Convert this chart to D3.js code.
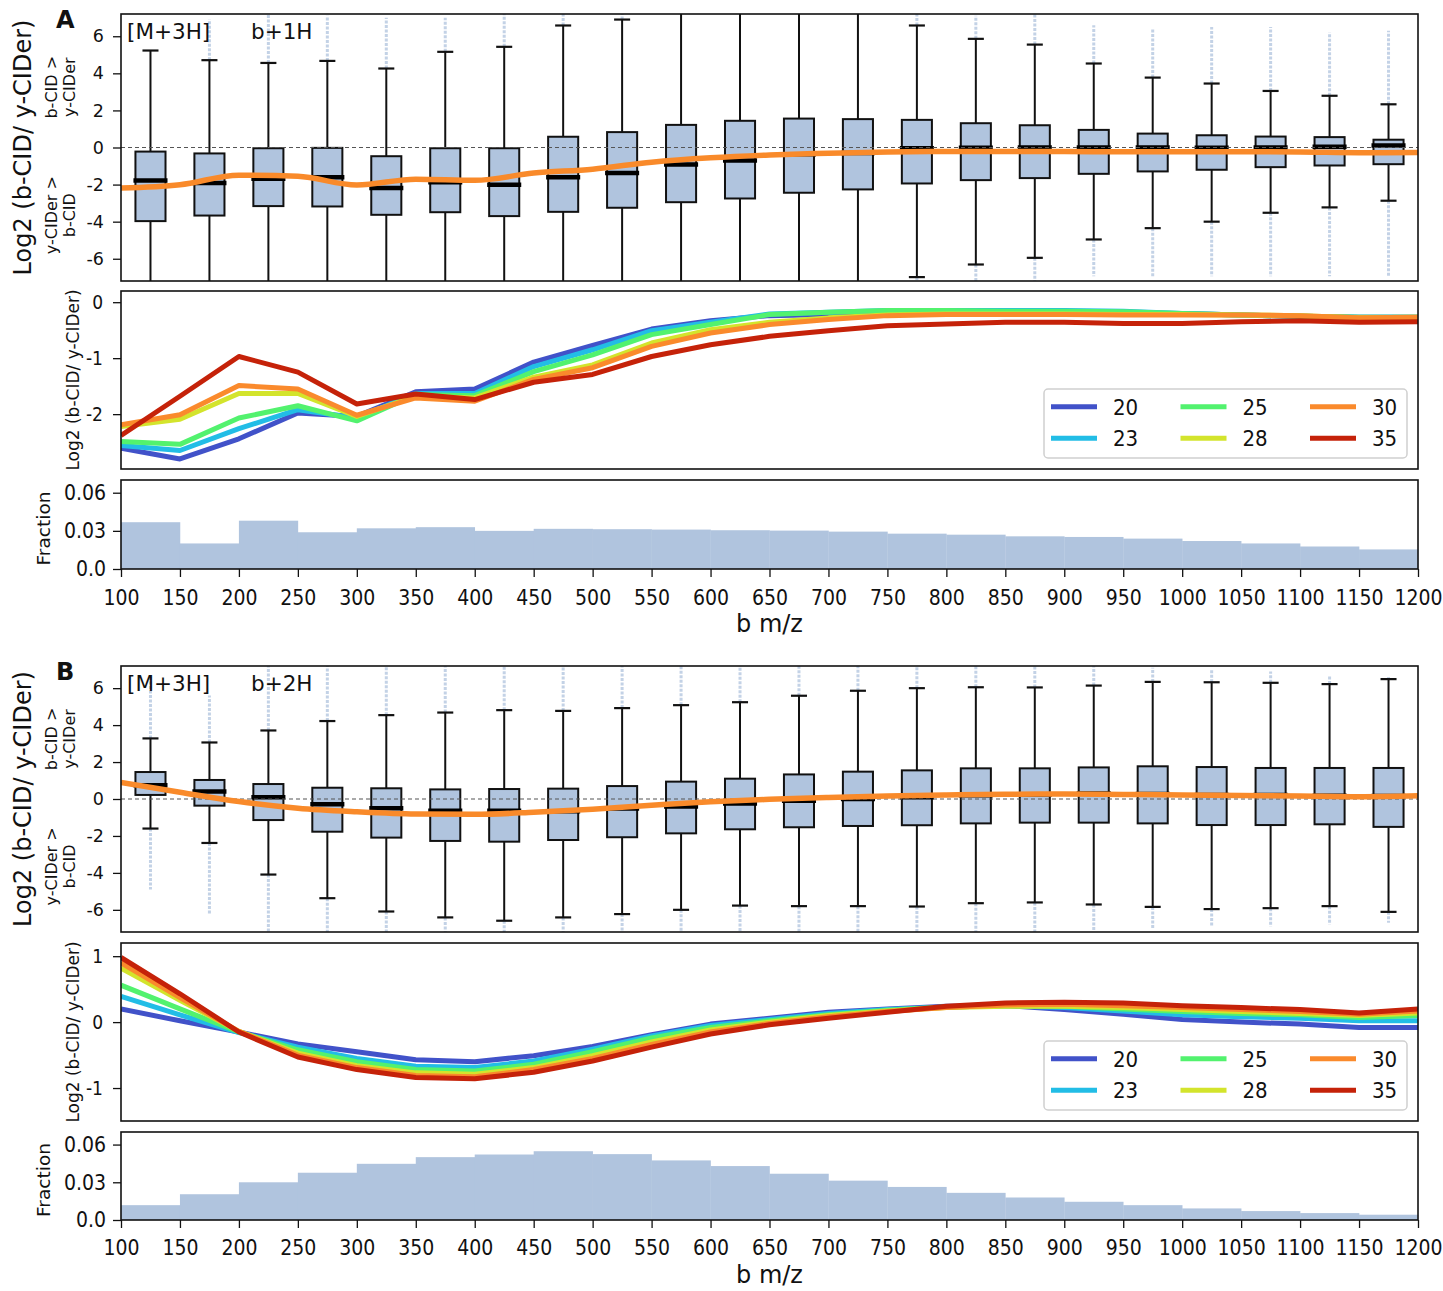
<!DOCTYPE html>
<html lang="en">
<head>
<meta charset="utf-8">
<title>b-CID / y-CIDer by b m/z</title>
<script src="https://d3js.org/d3.v7.min.js"></script>
<style>
  body { margin: 0; background: #fff; }
  text { font-family: "DejaVu Sans", sans-serif; fill: #111; }
  .cond { font-family: "DejaVu Sans Condensed", "DejaVu Sans", sans-serif; font-stretch: condensed; }
</style>
</head>
<body>
<script>
// ---- shared categories ----
const mzTicks = [100, 150, 200, 250, 300, 350, 400, 450, 500, 550, 600, 650, 700, 750, 800, 850, 900, 950, 1000, 1050, 1100, 1150, 1200];
const binMid = [125, 175, 225, 275, 325, 375, 425, 475, 525, 575, 625, 675, 725, 775, 825, 875, 925, 975, 1025, 1075, 1125, 1175];
const energies = ["20", "23", "25", "28", "30", "35"];
const energyColors = ["#4152c9", "#22bde6", "#52f26e", "#d3e42c", "#fa8a2c", "#c52209"];

// ---- panel A : b+1H ----
const aWhiskHi = [5.23, 4.71, 4.56, 4.67, 4.26, 5.16, 5.43, 6.58, 6.9, 8, 8, 8, 8, 6.58, 5.86, 5.55, 4.53, 3.77, 3.45, 3.05, 2.79, 2.33];
const aQ3 = [-0.22, -0.32, -0.04, -0.02, -0.47, -0.04, -0.04, 0.58, 0.83, 1.22, 1.44, 1.56, 1.53, 1.49, 1.31, 1.2, 0.95, 0.75, 0.66, 0.59, 0.56, 0.42];
const aMed = [-1.78, -1.92, -1.69, -1.6, -2.19, -1.87, -2.01, -1.6, -1.38, -0.92, -0.7, -0.36, -0.3, -0.04, -0.02, 0, 0, 0, -0.02, 0, 0.04, 0.11];
const aQ1 = [-3.97, -3.67, -3.16, -3.18, -3.63, -3.49, -3.7, -3.47, -3.25, -2.95, -2.75, -2.44, -2.26, -1.94, -1.76, -1.65, -1.42, -1.29, -1.2, -1.06, -0.97, -0.9];
const aWhiskLo = [-8, -8, -8, -8, -8, -8, -8, -8, -8, -8, -8, -8, -8, -6.99, -6.31, -5.95, -4.96, -4.35, -4.0, -3.52, -3.23, -2.87];
const aFlierHi = [null, 6.9, 7.2, 7.1, 7.0, 7.0, 7.2, 7.2, 7.2, null, null, null, null, 7.2, 7.1, 7.2, 6.6, 6.4, 6.5, 6.5, 6.2, 6.3];
const aFlierLo = [null, null, null, null, null, null, null, null, null, null, null, null, null, -7.2, -7.3, -7.3, -6.95, -6.95, -6.95, -6.95, -6.95, -6.95];
const aCE20 = [-2.61, -2.8, -2.44, -1.98, -2.04, -1.6, -1.55, -1.07, -0.77, -0.48, -0.33, -0.24, -0.22, -0.2, -0.19, -0.18, -0.18, -0.19, -0.2, -0.23, -0.25, -0.27, -0.27];
const aCE23 = [-2.56, -2.65, -2.26, -1.92, -2.07, -1.63, -1.63, -1.15, -0.85, -0.51, -0.36, -0.21, -0.18, -0.15, -0.15, -0.15, -0.15, -0.16, -0.2, -0.23, -0.25, -0.27, -0.27];
const aCE25 = [-2.49, -2.54, -2.07, -1.85, -2.12, -1.65, -1.67, -1.24, -0.94, -0.58, -0.4, -0.22, -0.18, -0.15, -0.15, -0.16, -0.16, -0.17, -0.2, -0.23, -0.25, -0.27, -0.27];
const aCE28 = [-2.22, -2.09, -1.63, -1.63, -2.04, -1.68, -1.71, -1.34, -1.12, -0.73, -0.49, -0.36, -0.28, -0.23, -0.21, -0.21, -0.21, -0.22, -0.22, -0.23, -0.24, -0.28, -0.27];
const aCE30 = [-2.19, -2.01, -1.49, -1.55, -2.02, -1.71, -1.77, -1.38, -1.17, -0.79, -0.55, -0.4, -0.31, -0.24, -0.22, -0.22, -0.22, -0.23, -0.23, -0.23, -0.24, -0.28, -0.27];
const aCE35 = [-2.38, -1.68, -0.97, -1.25, -1.82, -1.64, -1.74, -1.43, -1.29, -0.97, -0.76, -0.61, -0.51, -0.42, -0.39, -0.36, -0.36, -0.38, -0.38, -0.35, -0.33, -0.36, -0.35];
const aHist = [0.0368, 0.0201, 0.038, 0.0289, 0.032, 0.0329, 0.030, 0.0316, 0.0313, 0.031, 0.0305, 0.0302, 0.0294, 0.0278, 0.027, 0.0257, 0.0252, 0.0239, 0.022, 0.0201, 0.0177, 0.0154];

// ---- panel B : b+2H ----
const bWhiskHi = [3.28, 3.06, 3.71, 4.22, 4.54, 4.68, 4.81, 4.77, 4.92, 5.08, 5.24, 5.59, 5.86, 6.0, 6.05, 6.04, 6.14, 6.34, 6.32, 6.29, 6.22, 6.49];
const bQ3 = [1.46, 1.03, 0.81, 0.61, 0.58, 0.52, 0.54, 0.56, 0.7, 0.94, 1.1, 1.33, 1.48, 1.55, 1.66, 1.66, 1.71, 1.77, 1.73, 1.68, 1.68, 1.68];
const bMed = [0.74, 0.4, 0.09, -0.29, -0.5, -0.63, -0.63, -0.66, -0.52, -0.4, -0.25, -0.1, 0.0, 0.1, 0.2, 0.25, 0.3, 0.27, 0.22, 0.22, 0.18, 0.16];
const bQ1 = [0.22, -0.36, -1.14, -1.77, -2.09, -2.27, -2.31, -2.22, -2.07, -1.86, -1.64, -1.53, -1.46, -1.42, -1.32, -1.28, -1.28, -1.32, -1.41, -1.41, -1.37, -1.51];
const bWhiskLo = [-1.6, -2.38, -4.09, -5.37, -6.09, -6.41, -6.59, -6.41, -6.23, -6.0, -5.77, -5.8, -5.8, -5.82, -5.64, -5.6, -5.71, -5.84, -5.96, -5.91, -5.8, -6.11];
const bFlierHi = [6.7, 5.6, 7.2, 7.2, 7.2, 7.2, 7.2, 7.2, 7.2, 7.2, 7.2, 7.2, 7.2, 7.2, 7.2, 7.2, 7.2, 7.1, 7.0, 6.9, 6.7, 6.6];
const bFlierLo = [-4.9, -6.27, -7.3, -7.3, -7.3, -7.3, -7.3, -7.3, -7.3, -7.3, -7.3, -7.3, -7.3, -7.3, -7.2, -7.2, -7.1, -7.0, -6.9, -6.9, -6.8, -6.7];
const bCE20 = [0.2, 0.02, -0.15, -0.33, -0.45, -0.57, -0.6, -0.51, -0.37, -0.19, -0.03, 0.06, 0.15, 0.2, 0.24, 0.25, 0.19, 0.12, 0.04, 0.0, -0.03, -0.08, -0.08];
const bCE23 = [0.39, 0.11, -0.16, -0.38, -0.55, -0.67, -0.69, -0.59, -0.41, -0.21, -0.05, 0.04, 0.13, 0.19, 0.23, 0.25, 0.22, 0.17, 0.11, 0.08, 0.06, 0.02, 0.02];
const bCE25 = [0.56, 0.2, -0.15, -0.42, -0.6, -0.72, -0.74, -0.64, -0.45, -0.24, -0.08, 0.02, 0.11, 0.18, 0.23, 0.25, 0.24, 0.2, 0.16, 0.13, 0.11, 0.07, 0.1];
const bCE28 = [0.82, 0.33, -0.14, -0.47, -0.66, -0.77, -0.79, -0.69, -0.51, -0.3, -0.12, 0.0, 0.1, 0.17, 0.22, 0.24, 0.24, 0.22, 0.19, 0.16, 0.13, 0.1, 0.14];
const bCE30 = [0.9, 0.37, -0.14, -0.5, -0.69, -0.81, -0.83, -0.72, -0.55, -0.34, -0.15, -0.02, 0.08, 0.16, 0.22, 0.26, 0.27, 0.25, 0.22, 0.19, 0.16, 0.12, 0.17];
const bCE35 = [0.98, 0.43, -0.15, -0.53, -0.72, -0.84, -0.86, -0.76, -0.59, -0.38, -0.18, -0.04, 0.06, 0.15, 0.24, 0.29, 0.3, 0.29, 0.25, 0.22, 0.19, 0.14, 0.2];
const bHist = [0.0118, 0.0205, 0.030, 0.0376, 0.0447, 0.050, 0.0521, 0.0547, 0.0524, 0.0474, 0.0429, 0.0368, 0.0313, 0.0263, 0.0216, 0.0179, 0.0145, 0.0118, 0.0092, 0.0071, 0.0055, 0.0042];

const W = 1443, H = 1291;
const left = 121, right = 1418;
const boxFill = "#b0c4de";
const trendColor = "#f98a2a";

const svg = d3.select("body").append("svg").attr("width", W).attr("height", H);
const x = d3.scaleLinear().domain([100, 1200]).range([left, right]);

const panels = [
  { id: "A", ion: "b+1H", boxTop: 14, boxBottom: 281, lineTop: 291, lineBottom: 469, histTop: 480, histBottom: 569,
    whiskHi: aWhiskHi, q3: aQ3, med: aMed, q1: aQ1, whiskLo: aWhiskLo, flierHi: aFlierHi, flierLo: aFlierLo,
    lines: [aCE20, aCE23, aCE25, aCE28, aCE30, aCE35], trend: aCE30, hist: aHist,
    lineDomain: [-2.98, 0.2], lineTicks: [-2, -1, 0], tickY: 36, xlabelY: 632 },
  { id: "B", ion: "b+2H", boxTop: 666, boxBottom: 932, lineTop: 943, lineBottom: 1121, histTop: 1132, histBottom: 1220,
    whiskHi: bWhiskHi, q3: bQ3, med: bMed, q1: bQ1, whiskLo: bWhiskLo, flierHi: bFlierHi, flierLo: bFlierLo,
    lines: [bCE20, bCE23, bCE25, bCE28, bCE30, bCE35], trend: bCE30, hist: bHist,
    lineDomain: [-1.5, 1.2], lineTicks: [-1, 0, 1], tickY: 35, xlabelY: 1283 }
];

const defs = svg.append("defs");

function styleAxis(g, size, cls) {
  g.select(".domain").remove();
  g.selectAll(".tick line").attr("stroke", "#111").attr("stroke-width", 1.3);
  g.selectAll(".tick text").attr("font-size", size).attr("fill", "#111")
    .attr("class", cls || null).attr("font-family", null);
  g.attr("font-family", null).attr("font-size", null);
}

function frame(top, bottom) {
  svg.append("rect").attr("x", left).attr("y", top)
    .attr("width", right - left).attr("height", bottom - top)
    .attr("fill", "none").attr("stroke", "#111").attr("stroke-width", 1.6);
}

function drawPanel(p) {
  // ---------- box plot ----------
  const yBox = d3.scaleLinear().domain([-7.2, 7.2]).range([p.boxBottom, p.boxTop]);
  defs.append("clipPath").attr("id", "clipBox" + p.id).append("rect")
    .attr("x", left).attr("y", p.boxTop).attr("width", right - left).attr("height", p.boxBottom - p.boxTop);

  const boxes = binMid.map((m, i) => ({
    m, hi: p.whiskHi[i], q3: p.q3[i], med: p.med[i], q1: p.q1[i], lo: p.whiskLo[i],
    fHi: p.flierHi[i], fLo: p.flierLo[i]
  }));
  const bw = (x(150) - x(100)) * 0.51;
  const cap = bw / 2;
  const gb = svg.append("g").attr("clip-path", `url(#clipBox${p.id})`);

  // outlier columns
  gb.selectAll(".fhi").data(boxes.filter(d => d.fHi != null)).join("line")
    .attr("x1", d => x(d.m)).attr("x2", d => x(d.m))
    .attr("y1", d => yBox(d.hi)).attr("y2", d => yBox(d.fHi))
    .attr("stroke", boxFill).attr("stroke-width", 3).attr("stroke-dasharray", "3,1.5").attr("opacity", 0.75);
  gb.selectAll(".flo").data(boxes.filter(d => d.fLo != null)).join("line")
    .attr("x1", d => x(d.m)).attr("x2", d => x(d.m))
    .attr("y1", d => yBox(d.lo)).attr("y2", d => yBox(d.fLo))
    .attr("stroke", boxFill).attr("stroke-width", 3).attr("stroke-dasharray", "3,1.5").attr("opacity", 0.75);

  // whiskers
  gb.selectAll(".wh").data(boxes).join("line")
    .attr("x1", d => x(d.m)).attr("x2", d => x(d.m))
    .attr("y1", d => yBox(d.q3)).attr("y2", d => yBox(d.hi))
    .attr("stroke", "#111").attr("stroke-width", 2);
  gb.selectAll(".wl").data(boxes).join("line")
    .attr("x1", d => x(d.m)).attr("x2", d => x(d.m))
    .attr("y1", d => yBox(d.q1)).attr("y2", d => yBox(d.lo))
    .attr("stroke", "#111").attr("stroke-width", 2);
  gb.selectAll(".ch").data(boxes.filter(d => d.hi < 7.2)).join("line")
    .attr("x1", d => x(d.m) - cap / 2 - 0.5).attr("x2", d => x(d.m) + cap / 2 + 0.5)
    .attr("y1", d => yBox(d.hi)).attr("y2", d => yBox(d.hi))
    .attr("stroke", "#111").attr("stroke-width", 2.2);
  gb.selectAll(".cl").data(boxes.filter(d => d.lo > -7.2)).join("line")
    .attr("x1", d => x(d.m) - cap / 2 - 0.5).attr("x2", d => x(d.m) + cap / 2 + 0.5)
    .attr("y1", d => yBox(d.lo)).attr("y2", d => yBox(d.lo))
    .attr("stroke", "#111").attr("stroke-width", 2.2);

  // boxes
  gb.selectAll(".bx").data(boxes).join("rect")
    .attr("x", d => x(d.m) - bw / 2).attr("width", bw)
    .attr("y", d => yBox(d.q3)).attr("height", d => yBox(d.q1) - yBox(d.q3))
    .attr("fill", boxFill).attr("stroke", "#111").attr("stroke-width", 2);
  gb.selectAll(".md").data(boxes).join("line")
    .attr("x1", d => x(d.m) - bw / 2 - 2).attr("x2", d => x(d.m) + bw / 2 + 2)
    .attr("y1", d => yBox(d.med)).attr("y2", d => yBox(d.med))
    .attr("stroke", "#000").attr("stroke-width", 4.5);

  // zero line
  gb.append("line").attr("x1", left).attr("x2", right)
    .attr("y1", yBox(0)).attr("y2", yBox(0))
    .attr("stroke", "#555").attr("stroke-width", 1.1).attr("stroke-dasharray", "4,3");

  // trend line (30 eV)
  gb.append("path").datum(p.trend)
    .attr("d", d3.line().x((d, i) => x(mzTicks[i])).y(d => yBox(d)).curve(d3.curveMonotoneX))
    .attr("fill", "none").attr("stroke", trendColor).attr("stroke-width", 5.5);

  frame(p.boxTop, p.boxBottom);
  const ayb = svg.append("g").attr("transform", `translate(${left},0)`)
    .call(d3.axisLeft(yBox).tickValues([-6, -4, -2, 0, 2, 4, 6]).tickSize(8).tickPadding(9).tickFormat(d => String(d)));
  styleAxis(ayb, 17.5);

  // labels
  svg.append("text").attr("x", 56).attr("y", p.boxTop + 14)
    .attr("font-size", 24).attr("font-weight", "bold").text(p.id);
  svg.append("text").attr("x", 127).attr("y", p.boxTop + 25)
    .attr("font-size", 21.5).text("[M+3H]");
  svg.append("text").attr("x", 251).attr("y", p.boxTop + 25)
    .attr("font-size", 21.5).text(p.ion);
  const midBox = (p.boxTop + p.boxBottom) / 2;
  svg.append("text").attr("transform", `translate(23,${midBox}) rotate(-90)`)
    .attr("text-anchor", "middle").attr("dy", "0.35em").attr("font-size", 24).text("Log2 (b-CID/ y-CIDer)");
  const sub = [
    { v: 3.25, l1: "b-CID >", l2: "y-CIDer" },
    { v: -3.65, l1: "y-CIDer >", l2: "b-CID" }
  ];
  sub.forEach(s => {
    const t = svg.append("text").attr("transform", `translate(51,${yBox(s.v)}) rotate(-90)`)
      .attr("text-anchor", "middle").attr("font-size", 16);
    t.append("tspan").attr("x", 0).attr("dy", "0.35em").text(s.l1);
    t.append("tspan").attr("x", 0).attr("dy", "1.15em").text(s.l2);
  });

  // ---------- collision-energy lines ----------
  const yLine = d3.scaleLinear().domain(p.lineDomain).range([p.lineBottom, p.lineTop]);
  defs.append("clipPath").attr("id", "clipLine" + p.id).append("rect")
    .attr("x", left).attr("y", p.lineTop).attr("width", right - left).attr("height", p.lineBottom - p.lineTop);
  const gl = svg.append("g").attr("clip-path", `url(#clipLine${p.id})`);
  const line = d3.line().x((d, i) => x(mzTicks[i])).y(d => yLine(d));
  gl.selectAll("path").data(p.lines).join("path")
    .attr("d", line).attr("fill", "none")
    .attr("stroke", (d, i) => energyColors[i]).attr("stroke-width", 5)
    .attr("stroke-linejoin", "round");
  frame(p.lineTop, p.lineBottom);
  const ayl = svg.append("g").attr("transform", `translate(${left},0)`)
    .call(d3.axisLeft(yLine).tickValues(p.lineTicks).tickSize(8).tickPadding(10).tickFormat(d => String(d)));
  styleAxis(ayl, 19, "cond");
  svg.append("text").attr("transform", `translate(73,${(p.lineTop + p.lineBottom) / 2}) rotate(-90)`)
    .attr("text-anchor", "middle").attr("dy", "0.35em").attr("font-size", 17).text("Log2 (b-CID/ y-CIDer)");

  // legend
  const lg = svg.append("g").attr("transform", `translate(${right - 11 - 363},${p.lineBottom - 11 - 69})`);
  lg.append("rect").attr("width", 363).attr("height", 69).attr("rx", 4)
    .attr("fill", "#fff").attr("fill-opacity", 0.85).attr("stroke", "#d0d0d0").attr("stroke-width", 1.5);
  energies.forEach((e, i) => {
    const col = Math.floor(i / 2), row = i % 2;
    const gx = 7 + col * 129.5, gy = 17.7 + row * 31.6;
    lg.append("line").attr("x1", gx).attr("x2", gx + 46).attr("y1", gy).attr("y2", gy)
      .attr("stroke", energyColors[i]).attr("stroke-width", 5);
    lg.append("text").attr("class", "cond").attr("x", gx + 62).attr("y", gy).attr("dy", "0.36em")
      .attr("font-size", 22).text(e);
  });

  // ---------- histogram ----------
  const yHist = d3.scaleLinear().domain([0, 0.07]).range([p.histBottom, p.histTop]);
  svg.append("g").selectAll("rect").data(p.hist).join("rect")
    .attr("x", (d, i) => x(mzTicks[i])).attr("width", (d, i) => x(mzTicks[i + 1]) - x(mzTicks[i]) + 0.3)
    .attr("y", d => yHist(d)).attr("height", d => yHist(0) - yHist(d))
    .attr("fill", boxFill);
  frame(p.histTop, p.histBottom);
  const ayh = svg.append("g").attr("transform", `translate(${left},0)`)
    .call(d3.axisLeft(yHist).tickValues([0, 0.03, 0.06]).tickSize(8).tickPadding(7)
      .tickFormat(d => d === 0 ? "0.0" : d3.format(".2f")(d)));
  styleAxis(ayh, 21, "cond");
  svg.append("text").attr("transform", `translate(44,${(p.histTop + p.histBottom) / 2 + 4}) rotate(-90)`)
    .attr("text-anchor", "middle").attr("dy", "0.35em").attr("font-size", 18.5).text("Fraction");

  const axh = svg.append("g").attr("transform", `translate(0,${p.histBottom})`)
    .call(d3.axisBottom(x).tickValues(mzTicks).tickSize(8).tickFormat(d => String(d)));
  styleAxis(axh, 21, "cond");
  axh.selectAll(".tick text").attr("dy", null).attr("y", p.tickY);
  svg.append("text").attr("x", (left + right) / 2).attr("y", p.xlabelY)
    .attr("text-anchor", "middle").attr("font-size", 24).text("b m/z");
}

panels.forEach(drawPanel);
</script>
</body>
</html>
